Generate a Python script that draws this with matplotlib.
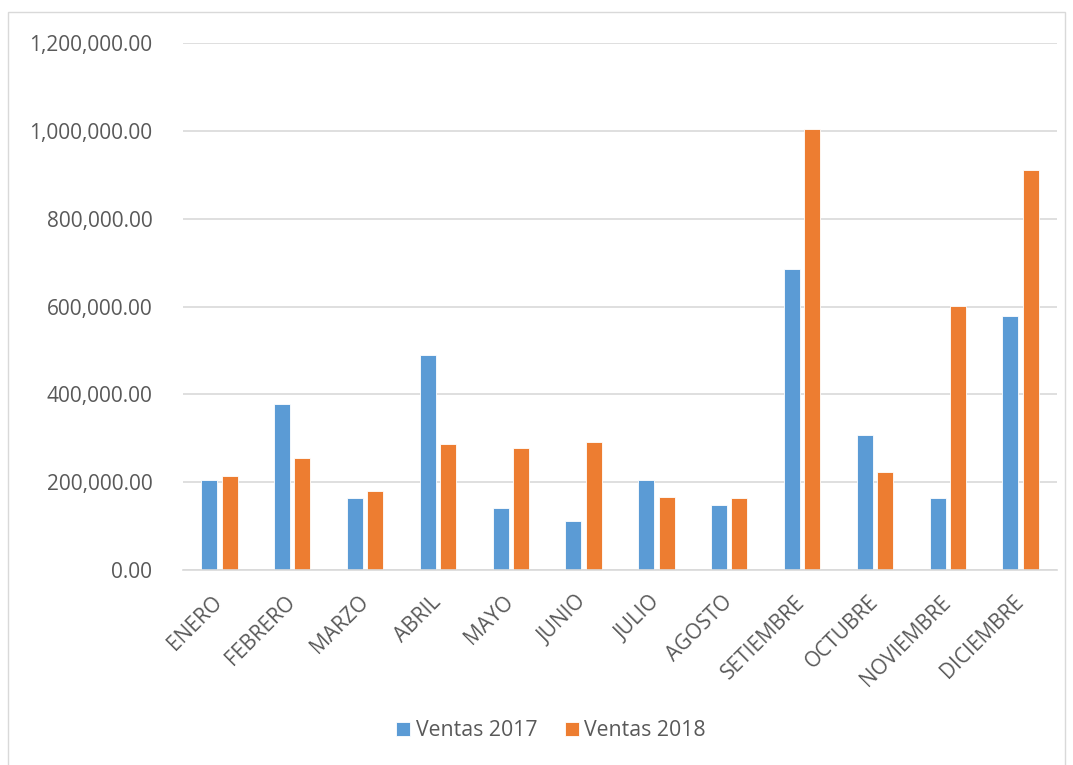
import numpy as np
import matplotlib.pyplot as plt
from matplotlib.patches import Rectangle
from matplotlib.ticker import FuncFormatter

meses = ["ENERO", "FEBRERO", "MARZO", "ABRIL", "MAYO", "JUNIO", "JULIO",
         "AGOSTO", "SETIEMBRE", "OCTUBRE", "NOVIEMBRE", "DICIEMBRE"]
ventas_2017 = [204000, 377000, 163000, 489000, 141000, 111000, 204000,
               147000, 685000, 307000, 164000, 579000]
ventas_2018 = [213000, 255000, 180000, 287000, 278000, 292000, 166000,
               165000, 1004000, 223000, 601000, 911000]

azul = "#5B9BD5"
naranja = "#ED7D31"
gris = "#595959"

plt.rcParams['font.family'] = ['Open Sans', 'DejaVu Sans']

fig = plt.figure(figsize=(10.73, 7.65), dpi=100)
ax = fig.add_axes([183 / 1073, 1 - 570 / 765, (1057 - 183) / 1073, (570 - 43) / 765])

# marco exterior del grafico
fig.patches.append(Rectangle((8 / 1073, -0.01), (1065 - 8) / 1073, 1 - 12 / 765 + 0.01,
                             transform=fig.transFigure, fill=False,
                             edgecolor="#D9D9D9", linewidth=1))

x = np.arange(len(meses))
ancho = 0.22
ax.bar(x - 0.14, ventas_2017, ancho, color=azul, edgecolor="white", linewidth=0.6, label="Ventas 2017")
ax.bar(x + 0.14, ventas_2018, ancho, color=naranja, edgecolor="white", linewidth=0.6, label="Ventas 2018")

ax.set_xlim(-0.5, len(meses) - 0.5)
ax.set_ylim(0, 1200000)
ax.set_yticks(np.arange(0, 1200001, 200000))
ax.yaxis.set_major_formatter(FuncFormatter(lambda v, p: f"{v:,.2f}"))
ax.grid(axis="y", color="#D9D9D9", linewidth=1.2)
ax.set_axisbelow(True)
for s in ["top", "right", "left"]:
    ax.spines[s].set_visible(False)
ax.spines["bottom"].set_color("#D9D9D9")
ax.spines["bottom"].set_linewidth(1.2)

ax.tick_params(axis="both", length=0, labelsize=15, colors=gris)
ax.tick_params(axis="y", pad=22)
ax.set_xticks(x)
ax.set_xticklabels(meses, rotation=45, ha="right", va="center", rotation_mode="anchor")
ax.tick_params(axis="x", pad=21)

fig.legend(loc="center", bbox_to_anchor=(551 / 1073, 1 - 731 / 765), ncol=2, frameon=False,
           fontsize=15.3, labelcolor=gris, handlelength=0.66, handleheight=0.66,
           handletextpad=0.25, columnspacing=1.3)

fig.savefig("out.png", dpi=100)
